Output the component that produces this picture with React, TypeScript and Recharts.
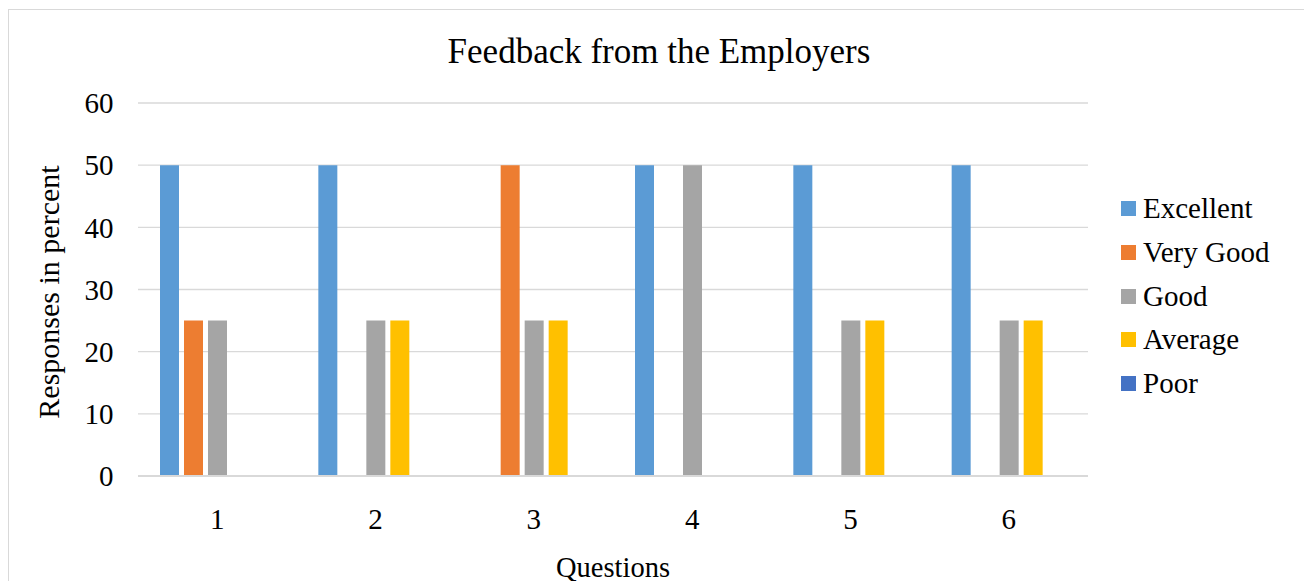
import { Bar, BarChart, CartesianGrid, XAxis, YAxis } from "recharts";

const questions = ["1", "2", "3", "4", "5", "6"];
const excellent = [50, 50, 0, 50, 50, 50];
const veryGood = [25, 0, 50, 0, 0, 0];
const good = [25, 25, 25, 50, 25, 25];
const average = [0, 25, 25, 0, 25, 25];
const poor = [0, 0, 0, 0, 0, 0];
const yTicks = [0, 10, 20, 30, 40, 50, 60];

const series = [
  { key: "Excellent", color: "#5B9BD5" },
  { key: "Very Good", color: "#ED7D31" },
  { key: "Good", color: "#A5A5A5" },
  { key: "Average", color: "#FFC000" },
  { key: "Poor", color: "#4472C4" },
];

const data = questions.map((q, i) => ({
  question: q,
  Excellent: excellent[i],
  "Very Good": veryGood[i],
  Good: good[i],
  Average: average[i],
  Poor: poor[i],
}));

const font = '"Liberation Serif", "Times New Roman", serif';
const tickStyle = { fontSize: 29, fill: "#000", fontFamily: font };

// legend sits outside the chart so it doesn't eat plot space
function LegendBox() {
  return (
    <div style={{ position: "absolute", left: 1112, top: 176.8, fontFamily: font }}>
      {series.map((s) => (
        <div
          key={s.key}
          style={{ height: 43.75, display: "flex", alignItems: "center" }}
        >
          <span
            style={{
              width: 15,
              height: 15,
              background: s.color,
              marginRight: 7,
              display: "inline-block",
            }}
          />
          <span style={{ fontSize: 29, lineHeight: "29px", color: "#000", whiteSpace: "nowrap" }}>
            {s.key}
          </span>
        </div>
      ))}
    </div>
  );
}

export default function App() {
  return (
    <div
      style={{
        position: "relative",
        width: 1301,
        height: 600,
        border: "1px solid #d9d9d9",
        boxSizing: "border-box",
        marginTop: 1,
        background: "#fff",
        fontFamily: font,
      }}
    >
      <BarChart
        width={1299}
        height={580}
        data={data}
        margin={{ top: 93, right: 220, left: 0, bottom: 54 }}
        barSize={19}
        barGap={5}
        style={{ fontFamily: font }}
      >
        <CartesianGrid vertical={false} stroke="#d9d9d9" strokeWidth={1.3} />
        <XAxis
          dataKey="question"
          height={60}
          axisLine={{ stroke: "#d9d9d9", strokeWidth: 2 }}
          tickLine={false}
          tickSize={0}
          tickMargin={32}
          tick={tickStyle}
        />
        <YAxis
          width={129}
          domain={[0, 60]}
          ticks={yTicks}
          interval={0}
          axisLine={false}
          tickLine={false}
          tickSize={0}
          tickMargin={24.5}
          tick={tickStyle}
        />
        {series.map((s) => (
          <Bar
            key={s.key}
            dataKey={s.key}
            fill={s.color}
            isAnimationActive={false}
          />
        ))}
        <text
          x={650}
          y={53}
          textAnchor="middle"
          fontSize={35}
          fontFamily={font}
          fill="#000"
        >
          Feedback from the Employers
        </text>
        <text
          x={39.5}
          y={282}
          transform="rotate(-90 39.5 282)"
          textAnchor="middle"
          dominantBaseline="central"
          fontSize={30}
          fontFamily={font}
          fill="#000"
        >
          Responses in percent
        </text>
        <text
          x={604}
          y={567}
          textAnchor="middle"
          fontSize={28.5}
          fontFamily={font}
          fill="#000"
        >
          Questions
        </text>
      </BarChart>
      <LegendBox />
    </div>
  );
}
